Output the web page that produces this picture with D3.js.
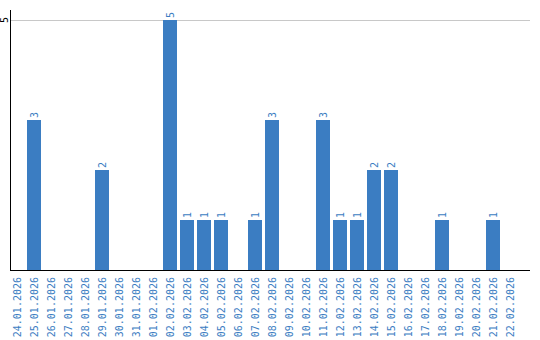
<!DOCTYPE html>
<html lang="en">
<head>
    <meta charset="UTF-8">
    <title>Daily counts</title>
    <script src="https://d3js.org/d3.v7.min.js"></script>
    <style>
        body { margin: 0; background: #fff; }
        svg { display: block; }
    </style>
</head>
<body>
    <div id="chart"></div>
    <script>
        const dates = [
            "24.01.2026", "25.01.2026", "26.01.2026", "27.01.2026", "28.01.2026",
            "29.01.2026", "30.01.2026", "31.01.2026", "01.02.2026", "02.02.2026",
            "03.02.2026", "04.02.2026", "05.02.2026", "06.02.2026", "07.02.2026",
            "08.02.2026", "09.02.2026", "10.02.2026", "11.02.2026", "12.02.2026",
            "13.02.2026", "14.02.2026", "15.02.2026", "16.02.2026", "17.02.2026",
            "18.02.2026", "19.02.2026", "20.02.2026", "21.02.2026", "22.02.2026"
        ];
        const counts = [0, 3, 0, 0, 0, 2, 0, 0, 0, 5,
                        1, 1, 1, 0, 1, 3, 0, 0, 3, 1,
                        1, 2, 2, 0, 0, 1, 0, 0, 1, 0];
        const yTicks = [5];

        const width = 540, height = 340;
        const plotLeft = 10, plotBase = 270, plotTop = 20, plotRight = 530;
        const blue = "#3b7dc2";
        const font = "'DejaVu Sans Mono', monospace";

        const svg = d3.select("#chart").append("svg")
            .attr("width", width).attr("height", height);

        const x = d3.scaleBand().domain(dates)
            .range([plotLeft, plotLeft + 17 * dates.length - 3])
            .paddingInner(3 / 17).paddingOuter(0);
        const y = d3.scaleLinear().domain([0, 5]).range([plotBase, plotTop]);

        // gridlines
        svg.append("g").selectAll("line").data(yTicks).join("line")
            .attr("x1", plotLeft).attr("x2", plotRight)
            .attr("y1", d => y(d) + 0.5).attr("y2", d => y(d) + 0.5)
            .attr("stroke", "#c8c8c8");

        // bars
        const data = dates.map((d, i) => ({ date: d, value: counts[i] }));
        svg.append("g").selectAll("rect").data(data.filter(d => d.value > 0)).join("rect")
            .attr("x", d => x(d.date))
            .attr("y", d => y(d.value))
            .attr("width", x.bandwidth())
            .attr("height", d => plotBase - y(d.value))
            .attr("fill", blue);

        // value labels
        svg.append("g").selectAll("text").data(data.filter(d => d.value > 0)).join("text")
            .attr("transform", d => `translate(${x(d.date) + x.bandwidth() / 2 + 3.5},${y(d.value) - 2}) rotate(-90)`)
            .attr("font-family", font).attr("font-size", 10)
            .attr("fill", blue)
            .text(d => d.value);

        // axis lines
        svg.append("line").attr("x1", plotLeft + 0.5).attr("x2", plotLeft + 0.5)
            .attr("y1", 10).attr("y2", plotBase).attr("stroke", "#000");
        svg.append("line").attr("x1", plotLeft).attr("x2", plotRight)
            .attr("y1", plotBase + 0.5).attr("y2", plotBase + 0.5).attr("stroke", "#000");

        // y tick label
        svg.append("g").selectAll("text").data(yTicks).join("text")
            .attr("transform", d => `translate(8,${y(d)}) rotate(-90)`)
            .attr("text-anchor", "middle")
            .attr("font-family", font).attr("font-size", 10)
            .attr("fill", "#000")
            .text(d => d);

        // x tick labels
        svg.append("g").selectAll("text").data(dates).join("text")
            .attr("transform", d => `translate(${x(d) + x.bandwidth() / 2 + 3.5},${plotBase + 7}) rotate(-90)`)
            .attr("text-anchor", "end")
            .attr("font-family", font).attr("font-size", 10)
            .attr("fill", blue)
            .text(d => d);
    </script>
</body>
</html>
